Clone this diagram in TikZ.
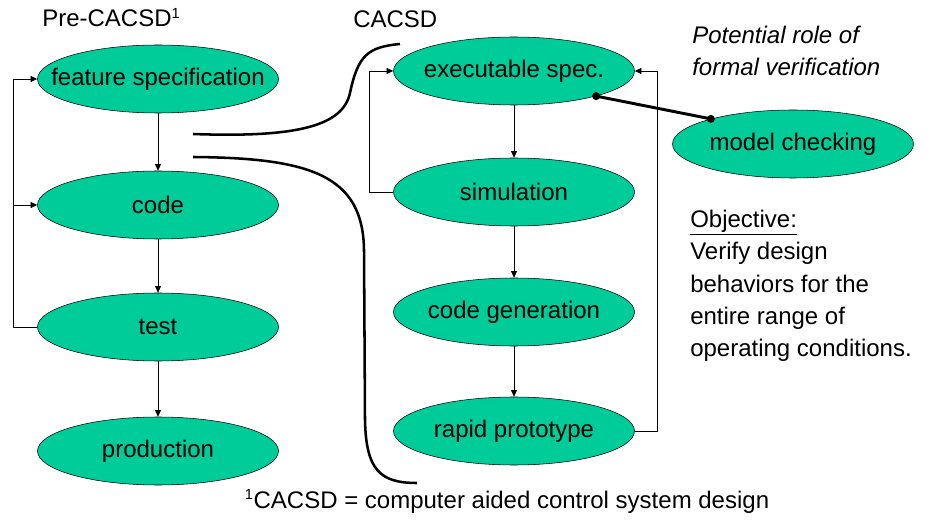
\documentclass[tikz,border=0pt]{standalone}
\usepackage{fontspec}
\setmainfont{Liberation Sans}
\usetikzlibrary{shapes.geometric,arrows.meta}
\definecolor{cacsdgreen}{RGB}{0,204,153}
\newcommand{\diagfont}{\fontsize{18}{24.2}\selectfont}
\newcommand{\phasetext}[1]{\makebox[0pt]{#1}}
\newcommand{\footmark}{\textsuperscript{\fontsize{11}{11}\selectfont 1}}
\tikzset{
phase/.style={ellipse,draw=black,fill=cacsdgreen,minimum width=180.75pt,minimum height=51pt,inner sep=0pt},
flow/.style={draw=black,line width=0.6pt,-{Triangle[length=5pt,width=4.5pt]}},
brace line/.style={line width=1.9pt},
note/.style={inner sep=0pt,align=left},
}
\tikzstyle{dot} = [fill=black]

\begin{document}
\begin{tikzpicture}[x=0.75pt,y=-0.75pt,font=\diagfont]
\useasboundingbox (0,0) rectangle (937,523);

\node[phase] (feat) at (158,79) {\phasetext{feature specification}};
\node[phase] (code) at (158,205) {\phasetext{code}};
\node[phase] (test) at (158,327) {\phasetext{test}};
\node[phase] (prod) at (158,451) {\phasetext{production}};

\node[phase] (exec) at (514,71) {\phasetext{executable spec.}};
\node[phase] (sim) at (514,192) {\phasetext{simulation}};
\node[phase] (cgen) at (514,312) {\phasetext{code generation}};
\node[phase] (rapid) at (514,431) {\phasetext{rapid prototype}};

\node[phase] (mc) at (793,144) {\phasetext{model checking}};

\draw[flow] (feat) -- (code);
\draw[flow] (code) -- (test);
\draw[flow] (test) -- (prod);
\draw[flow] (test.west) -- ++(-24,0) |- (feat.west);
\draw[flow] (test.west) -- ++(-24,0) |- (code.west);

\draw[flow] (exec) -- (sim);
\draw[flow] (sim) -- (cgen);
\draw[flow] (cgen) -- (rapid);
\draw[flow] (sim.west) -- ++(-24,0) |- (exec.west);
\draw[flow] (rapid.east) -- ++(23,0) |- (exec.east);

\draw[line width=2.2pt] (exec.-17) -- (mc.163);
\fill[dot] (exec.-17) circle (3pt) (mc.163) circle (3pt);

\coordinate (b1s) at (193,134);
\coordinate (b1e) at (400,44);
\draw[brace line] (b1s) .. controls (300,138) and (343,125) .. (350,93)
  .. controls (358,55) and (368,47) .. (b1e);
\coordinate (b2s) at (193,157);
\coordinate (b2e) at (417,483);
\draw[brace line] (b2s) .. controls (310,158) and (363,175) .. (364,250)
  -- (365,420) .. controls (366,470) and (380,483) .. (b2e);

\node[anchor=base west,inner sep=0pt] (pre) at (42,27) {Pre-CACSD\footmark};
\node[anchor=base west,inner sep=0pt] (cacsd) at (353,28) {CACSD};
\node[note,anchor=north west,font=\diagfont\itshape] (role) at (692,26)
  {Potential role of\\formal verification};
\node[note,anchor=north west] (goal) at (690,210)
  {\underline{Objective:}\\Verify design\\behaviors for the\\entire range of\\operating conditions.};
\node[anchor=base,inner sep=0pt] (foot) at (507,508)
  {\footmark CACSD = computer aided control system design};
\end{tikzpicture}
\end{document}
